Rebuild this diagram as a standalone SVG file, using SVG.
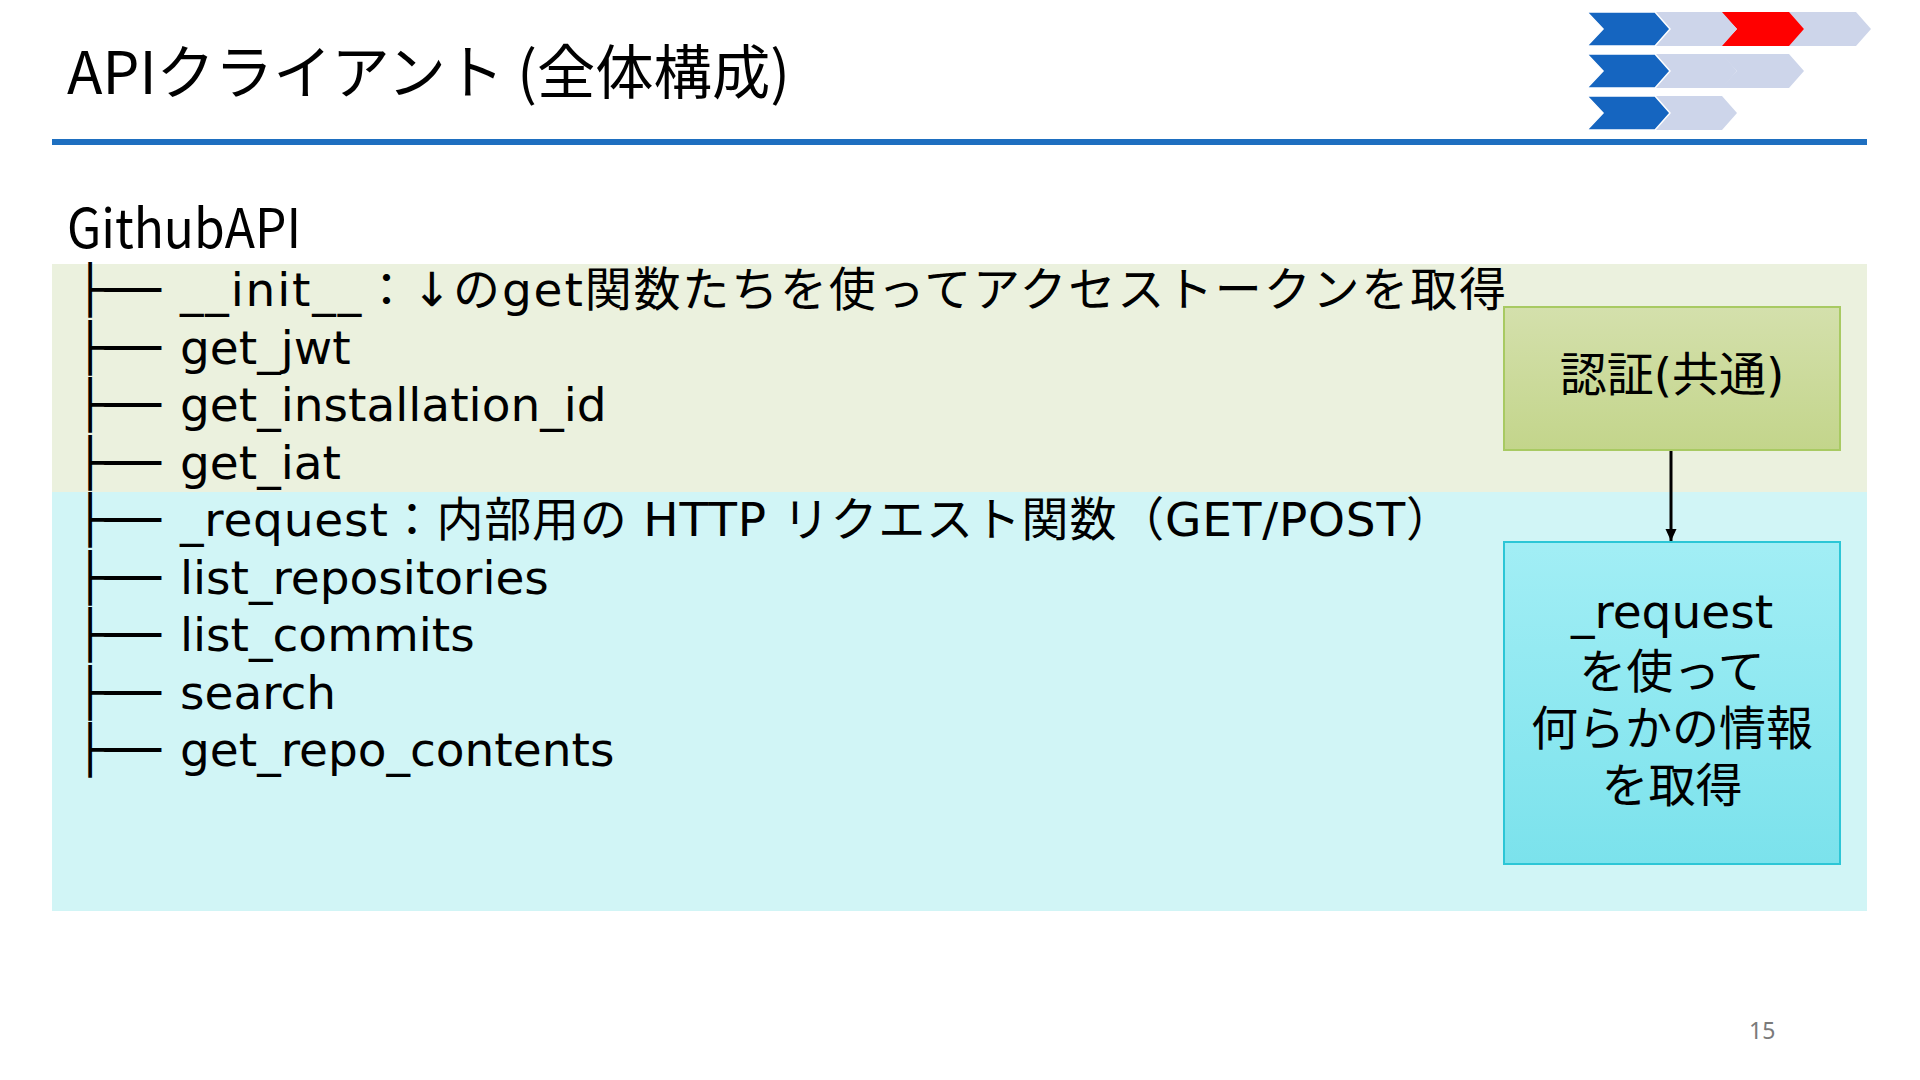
<svg xmlns="http://www.w3.org/2000/svg" width="1920" height="1080" viewBox="0 0 1920 1080">
  <style>
    .title { font-family: "Noto Sans CJK JP", "Noto Sans", sans-serif; font-size: 59px; fill: #000; }
    .root { font-family: "Noto Sans CJK JP", "Noto Sans", sans-serif; font-size: 54px; fill: #000; }
    .tree { font-family: "DejaVu Sans", "Noto Sans CJK JP", sans-serif; font-size: 47px; fill: #000; }
    .item { font-family: "DejaVu Sans", "Noto Sans CJK JP", sans-serif; font-size: 47px; fill: #000; }
    .label { font-family: "DejaVu Sans", "Noto Sans CJK JP", sans-serif; font-size: 47px; fill: #000; text-anchor: middle; }
    .page { font-family: "Noto Sans", "DejaVu Sans", sans-serif; font-size: 23px; fill: #7a7a7a; }
    .blue { fill: #1565C0; stroke: #ffffff; stroke-width: 1.5; }
    .light { fill: #CDD5EA; }
    .red { fill: #FF0000; }
    .conn { stroke: #000; stroke-width: 3; fill: none; }
  </style>
  <defs>
    <path id="chev" d="M0,0 L68,0 L83,17 L68,34 L0,34 L16,17 Z"/>
    <linearGradient id="gGreen" x1="0" y1="0" x2="0" y2="1">
      <stop offset="0" stop-color="#D4E0AC"/>
      <stop offset="1" stop-color="#C3D58B"/>
    </linearGradient>
    <linearGradient id="gCyan" x1="0" y1="0" x2="0" y2="1">
      <stop offset="0" stop-color="#A2EEF5"/>
      <stop offset="1" stop-color="#7BE2EC"/>
    </linearGradient>
    <marker id="arrow" viewBox="0 0 12 12" refX="12" refY="6" markerWidth="4" markerHeight="4" orient="auto" markerUnits="strokeWidth">
      <path d="M0,0.5 L12,6 L0,11.5 Z" fill="#000"/>
    </marker>
  </defs>

  <rect x="0" y="0" width="1920" height="1080" fill="#ffffff"/>

  <g id="header">
    <text class="title" x="67" y="94" textLength="723" lengthAdjust="spacingAndGlyphs">APIクライアント (全体構成)</text>
    <rect x="52" y="139" width="1815" height="6" fill="#1E6FC0"/>
    <g id="chevrons">
      <use href="#chev" x="1788" y="12" class="light"/>
      <use href="#chev" x="1721" y="12" class="red"/>
      <use href="#chev" x="1654" y="12" class="light"/>
      <use href="#chev" x="1587" y="12" class="blue"/>
      <use href="#chev" x="1721" y="54" class="light"/>
      <use href="#chev" x="1654" y="54" class="light"/>
      <use href="#chev" x="1587" y="54" class="blue"/>
      <use href="#chev" x="1654" y="96" class="light"/>
      <use href="#chev" x="1587" y="96" class="blue"/>
    </g>
  </g>

  <g id="bands">
    <rect x="52" y="264" width="1815" height="228" fill="#EBF1DE"/>
    <rect x="52" y="492" width="1815" height="419" fill="#D1F5F6"/>
  </g>

  <g id="tree">
    <text class="root" x="67" y="248" textLength="234" lengthAdjust="spacingAndGlyphs">GithubAPI</text>
    <text class="tree" x="76" y="306">├──</text>
    <text class="tree" x="76" y="363.6">├──</text>
    <text class="tree" x="76" y="421.1">├──</text>
    <text class="tree" x="76" y="478.7">├──</text>
    <text class="tree" x="76" y="536.2">├──</text>
    <text class="tree" x="76" y="593.8">├──</text>
    <text class="tree" x="76" y="651.3">├──</text>
    <text class="tree" x="76" y="708.9">├──</text>
    <text class="tree" x="76" y="766.4">├──</text>
    <text class="item" x="180" y="306" textLength="1326" lengthAdjust="spacing">__init__：↓のget関数たちを使ってアクセストークンを取得</text>
    <text class="item" x="180" y="363.6">get_jwt</text>
    <text class="item" x="180" y="421.1">get_installation_id</text>
    <text class="item" x="180" y="478.7">get_iat</text>
    <text class="item" x="180" y="536.2" textLength="1273" lengthAdjust="spacing">_request：内部用の HTTP リクエスト関数（GET/POST）</text>
    <text class="item" x="180" y="593.8">list_repositories</text>
    <text class="item" x="180" y="651.3">list_commits</text>
    <text class="item" x="180" y="708.9">search</text>
    <text class="item" x="180" y="766.4">get_repo_contents</text>
  </g>

  <g id="connectors">
    <line class="conn" x1="1671" y1="451" x2="1671" y2="541" marker-end="url(#arrow)"/>
  </g>

  <g id="node-auth">
    <rect x="1504" y="307" width="336" height="143" fill="url(#gGreen)" stroke="#A8CA62" stroke-width="2"/>
    <text class="label" x="1672" y="391">認証(共通)</text>
  </g>

  <g id="node-request">
    <rect x="1504" y="542" width="336" height="322" fill="url(#gCyan)" stroke="#2CC6D6" stroke-width="2"/>
    <text class="label" x="1672" y="628">_request</text>
    <text class="label" x="1672" y="688">を使って</text>
    <text class="label" x="1672" y="745">何らかの情報</text>
    <text class="label" x="1672" y="802">を取得</text>
  </g>

  <text class="page" x="1749" y="1039">15</text>
</svg>
